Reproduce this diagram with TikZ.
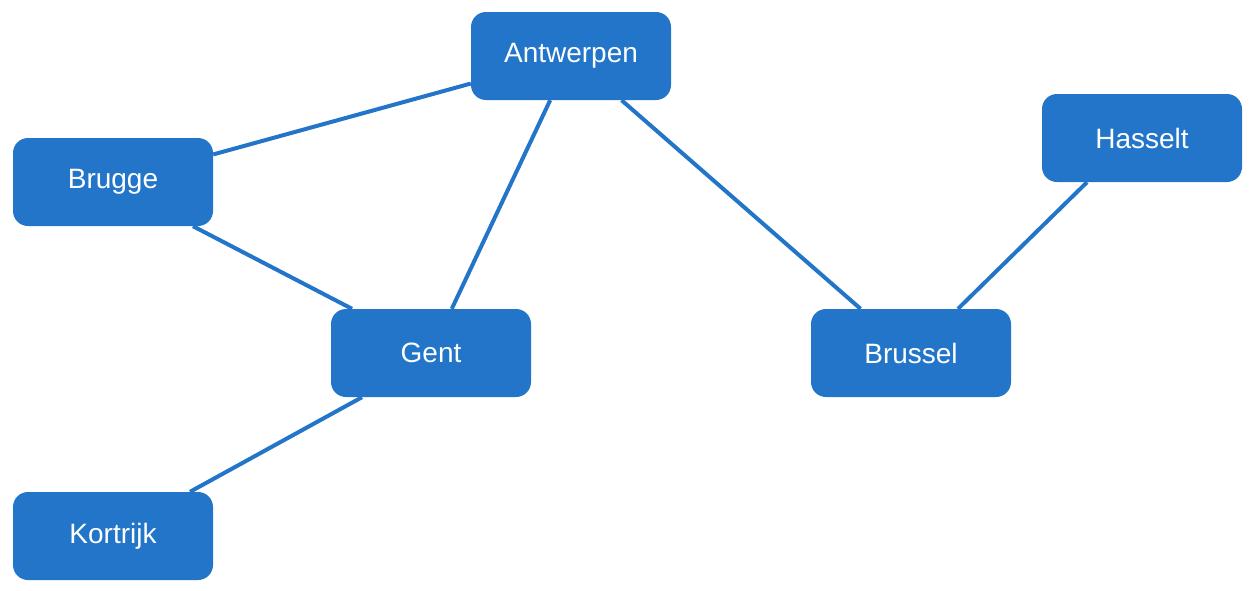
\documentclass[tikz,border=0pt]{standalone}
\usepackage{fontspec}
\setmainfont{Liberation Sans}
\definecolor{nodeblue}{RGB}{34,117,200}
\begin{document}
\begin{tikzpicture}[x=1pt,y=-1pt,
  city/.style={draw=none,fill=nodeblue,rounded corners=15pt,minimum width=200pt,minimum height=88pt,inner sep=0pt,text=white,font=\fontsize{28}{32}\selectfont},
  link/.style={draw=nodeblue,line width=4pt}]
\useasboundingbox (0,0) rectangle (1254,590);
\node[city] (antwerpen) at (571,56) {Antwerpen};
\node[city] (brugge) at (113,182) {Brugge};
\node[city] (hasselt) at (1142,138) {Hasselt};
\node[city] (gent) at (431,353) {Gent};
\node[city] (brussel) at (911,353) {Brussel};
\node[city] (kortrijk) at (113,536) {Kortrijk};
\draw[link] (antwerpen) -- (brugge);
\draw[link] (antwerpen) -- (gent);
\draw[link] (antwerpen) -- (brussel);
\draw[link] ([xshift=80pt]brugge.south) -- ([xshift=-79pt]gent.north);
\draw[link] ([xshift=-55pt]hasselt.south) -- ([xshift=47pt]brussel.north);
\draw[link] ([xshift=-69pt]gent.south) -- ([xshift=77pt]kortrijk.north);
\end{tikzpicture}
\end{document}
